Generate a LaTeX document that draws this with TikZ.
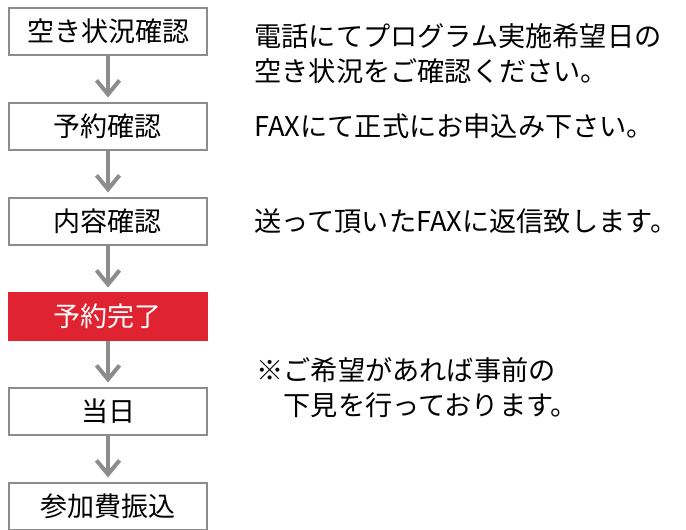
\documentclass[tikz,border=0pt]{standalone}
\usepackage{fontspec}
\setmainfont{Noto Sans CJK JP}
\usepackage{tikz}
\usetikzlibrary{arrows.meta,positioning}
\definecolor{boxgray}{HTML}{8C8C8C}
\definecolor{donered}{HTML}{DF2331}
\tikzstyle{block} = [rectangle, draw=boxgray, line width=1pt, fill=white,
    minimum width=99pt, minimum height=23.5pt, inner sep=0pt,
    font=\fontsize{13.5}{16}\selectfont]
\tikzstyle{block_red} = [block, draw=donered, fill=donered, text=white]
\tikzstyle{note} = [anchor=west, align=left, inner sep=0pt,
    font=\fontsize{13.6}{17.5}\selectfont]
\tikzstyle{line} = [draw=boxgray, line width=2pt, shorten >=2pt,
    -{Straight Barb[length=7pt,width=11.5pt,line width=2pt]}]

\begin{document}
\begin{tikzpicture}[node distance = 47.5pt]
    \useasboundingbox (0,0) rectangle (343pt,-265pt);
    % Place nodes
    \node [block] (1) at (54pt,-15.5pt) {空き状況確認};
    \node [block, below of=1] (2) {予約確認};
    \node [block, below of=2] (3) {内容確認};
    \node [block_red, below of=3] (4) {予約完了};
    \node [block, below of=4] (5) {当日};
    \node [block, below of=5] (6) {参加費振込};

    % Notes on the right
    \node [note, right=23pt of 1, yshift=-11.5pt] (n1) {電話にてプログラム実施希望日の\\空き状況をご確認ください。};
    \node [note, right=23pt of 2] (n2) {FAXにて正式にお申込み下さい。};
    \node [note, right=23pt of 3] (n3) {送って頂いたFAXに返信致します。};
    \node [note, right=24pt of 5, yshift=11.75pt] (n5) {※ご希望があれば事前の\\　下見を行っております。};

    % Draw edges
    \path [line] (1) -- (2);
    \path [line] (2) -- (3);
    \path [line] (3) -- (4);
    \path [line] (4) -- (5);
    \path [line] (5) -- (6);
\end{tikzpicture}
\end{document}
